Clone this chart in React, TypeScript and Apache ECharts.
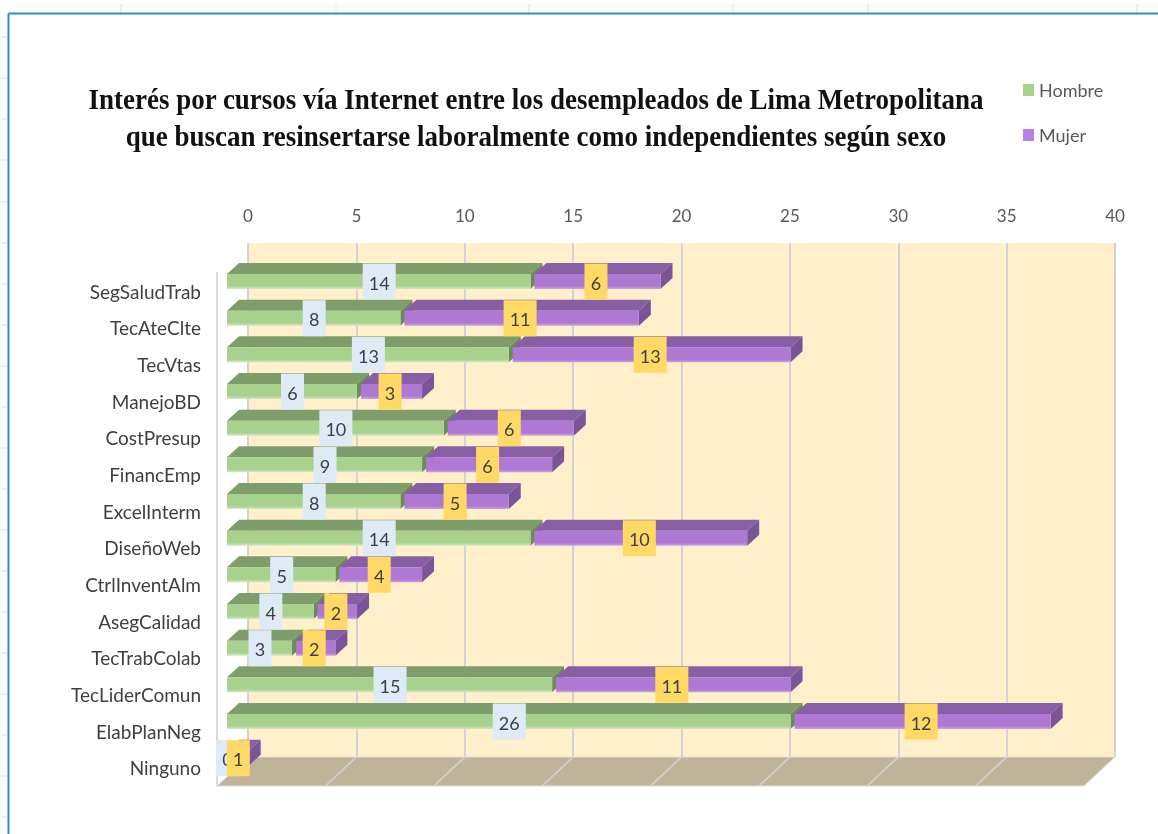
import React, { useEffect, useRef } from "react";
import * as echarts from "echarts";

const titleLines = [
  "Interés por cursos vía Internet entre los desempleados de Lima Metropolitana",
  "que buscan resinsertarse laboralmente como independientes según sexo",
];
const categories = [
  "SegSaludTrab", "TecAteClte", "TecVtas", "ManejoBD", "CostPresup", "FinancEmp", "ExcelInterm",
  "DiseñoWeb", "CtrlInventAlm", "AsegCalidad", "TecTrabColab", "TecLiderComun", "ElabPlanNeg", "Ninguno",
];
const hombre = [14, 8, 13, 6, 10, 9, 8, 14, 5, 4, 3, 15, 26, 0];
const mujer = [6, 11, 13, 3, 6, 6, 5, 10, 4, 2, 2, 11, 12, 1];
const floorTicks = [0, 5, 10, 15, 20, 25, 30, 35, 40];
const rulerTop = [121, 336, 529, 733, 868, 1137];
const rulerLeft = [37, 78, 119, 160, 202, 243, 284, 325, 366, 407, 448, 489, 530, 571, 612, 653, 694, 735, 776, 817];

const FONT = "Lato, 'Open Sans', sans-serif";
const DEPTH_X = 31, DEPTH_Y = 29;
const BAR_X = 10, BAR_Y = -9.5, BAR_H = 15, BAR_DX = 12, BAR_DY = 11;

const lighten = (c: string, light: string) =>
  new echarts.graphic.LinearGradient(0, 0, 0, 1, [
    { offset: 0, color: c },
    { offset: 0.8, color: c },
    { offset: 1, color: light },
  ]);

function barRenderer(front: string, frontLight: string, top: string, side: string, box: string, z: number, gap: number) {
  return (_p: any, api: any) => {
    const start = api.value(0), end = api.value(1), idx = api.value(2);
    const a = api.coord([start, idx]);
    const b = api.coord([end, idx]);
    const x0 = a[0] + BAR_X + (start > 0 ? gap : 0);
    const x1 = b[0] + BAR_X;
    const cy = a[1] + BAR_Y;
    const y0 = cy - BAR_H / 2, y1 = cy + BAR_H / 2;
    const v = end - start;
    const w = v >= 10 ? 33 : 23;
    const mid = (a[0] + b[0]) / 2 + BAR_X;
    const children: any[] = [];
    if (v > 0) {
      children.push(
        { type: "polygon", shape: { points: [[x0, y0], [x1, y0], [x1 + BAR_DX, y0 - BAR_DY], [x0 + BAR_DX, y0 - BAR_DY]] }, style: { fill: top } },
        { type: "polygon", shape: { points: [[x1, y0], [x1 + BAR_DX, y0 - BAR_DY], [x1 + BAR_DX, y1 - BAR_DY], [x1, y1]] }, style: { fill: side } },
        { type: "rect", shape: { x: x0, y: y0, width: x1 - x0, height: BAR_H }, style: { fill: lighten(front, frontLight) } }
      );
    }
    children.push(
      { type: "rect", z2: z, shape: { x: mid - w / 2 + 0.5, y: cy - 18, width: w, height: 36 }, style: { fill: box } },
      {
        type: "text", z2: z + 1,
        style: { text: String(v), x: mid + 0.5, y: cy + 1, align: "center", verticalAlign: "middle", fill: "#404040", font: `18px ${FONT}` },
      }
    );
    return { type: "group", children };
  };
}

const App = () => {
  const ref = useRef<HTMLDivElement>(null);
  useEffect(() => {
    const chart = echarts.init(ref.current!, undefined, { renderer: "svg" });
    const ruler: any[] = [
      ...rulerTop.map((x) => ({ type: "line", shape: { x1: x, y1: 4, x2: x, y2: 12 }, style: { stroke: "#D9D9D9", lineWidth: 1 } })),
      ...rulerLeft.map((y) => ({ type: "line", shape: { x1: 1, y1: y, x2: 8, y2: y }, style: { stroke: "#D9D9D9", lineWidth: 1 } })),
      { type: "line", shape: { x1: 8.5, y1: 13.5, x2: 1158, y2: 13.5 }, style: { stroke: "#2E8BD0", lineWidth: 2 } },
      { type: "line", shape: { x1: 8.5, y1: 13.5, x2: 8.5, y2: 834 }, style: { stroke: "#2E8BD0", lineWidth: 2 } },
      ...titleLines.map((t, i) => ({
        type: "text",
        x: 536,
        y: 98 + i * 37,
        scaleY: 1.12,
        style: {
          text: t, x: 0, y: 0, align: "center", verticalAlign: "middle", fill: "#111",
          font: "bold 27px 'Liberation Serif', serif",
        },
      })),
    ];
    chart.setOption({
      animation: false,
      graphic: ruler,
      legend: {
        data: ["Hombre", "Mujer"], orient: "vertical", left: 1018, top: 76, itemWidth: 11, itemHeight: 12, itemGap: 27,
        icon: "rect", textStyle: { color: "#595959", fontSize: 18, fontFamily: FONT }, selectedMode: false,
      },
      grid: [
        { left: 248, top: 243, width: 867, height: 514, show: true, backgroundColor: "#FFF0CB", borderWidth: 0 },
        { left: 217, top: 272.7, width: 867, height: 513.3, show: false },
      ],
      xAxis: [
        {
          gridIndex: 0, type: "value", position: "top", min: 0, max: 40, interval: 5,
          axisLine: { show: false }, axisTick: { show: false },
          axisLabel: { color: "#595959", fontSize: 17, fontFamily: FONT, margin: 19 },
          splitLine: { show: true, lineStyle: { color: "#D3D3D6", width: 2 } },
        },
        { gridIndex: 1, type: "value", min: 0, max: 40, interval: 5, show: false },
      ],
      yAxis: [
        {
          gridIndex: 1, type: "category", inverse: true, data: categories,
          axisLine: { show: true, lineStyle: { color: "#D9D9D9", width: 2 } }, axisTick: { show: false },
          axisLabel: { color: "#404040", fontSize: 19, fontFamily: FONT, margin: 16 },
        },
        { gridIndex: 0, type: "value", show: false },
      ],
      series: [
        {
          type: "custom", name: "floor", xAxisIndex: 1, yAxisIndex: 0, data: floorTicks.map((t) => [t]), encode: { x: 0 },
          renderItem: (params: any, api: any) => {
            const sys = params.coordSys;
            const yB = sys.y + sys.height;
            const v = api.value(0);
            const x = api.coord([v, 0])[0];
            const children: any[] = [];
            if (v === 0) {
              const xE = api.coord([40, 0])[0];
              children.push({
                type: "polygon",
                shape: { points: [[x, yB], [xE, yB], [xE + DEPTH_X, yB - DEPTH_Y], [x + DEPTH_X, yB - DEPTH_Y]] },
                style: { fill: "#C0B498", stroke: "#E2E0DA", lineWidth: 1 },
              });
            } else if (v < 40) {
              children.push({
                type: "line", shape: { x1: x, y1: yB, x2: x + DEPTH_X, y2: yB - DEPTH_Y },
                style: { stroke: "#D3D3D6", lineWidth: 1.5 },
              });
            }
            return { type: "group", children };
          },
        },
        {
          type: "custom", name: "Hombre", xAxisIndex: 1, yAxisIndex: 0, itemStyle: { color: "#A9D18E" },
          data: hombre.map((v, i) => [0, v, i]), encode: { x: [0, 1], y: 2 },
          renderItem: barRenderer("#A9D18E", "#D5E6C8", "#7F9D6B", "#6E8A5C", "#DEEAF6", 100, 0),
        },
        {
          type: "custom", name: "Mujer", xAxisIndex: 1, yAxisIndex: 0, itemStyle: { color: "#B981E3" },
          data: mujer.map((v, i) => [hombre[i], hombre[i] + v, i]), encode: { x: [0, 1], y: 2 },
          renderItem: barRenderer("#AF78D3", "#C8A3E0", "#885FA5", "#7B5399", "#FFD966", 102, 4),
        },
      ],
    });
    return () => chart.dispose();
  }, []);
  return <div ref={ref} style={{ position: "fixed", left: 0, top: 0, width: 1158, height: 834, background: "#fff", filter: "blur(0.5px)" }} />;
};

export default App;
